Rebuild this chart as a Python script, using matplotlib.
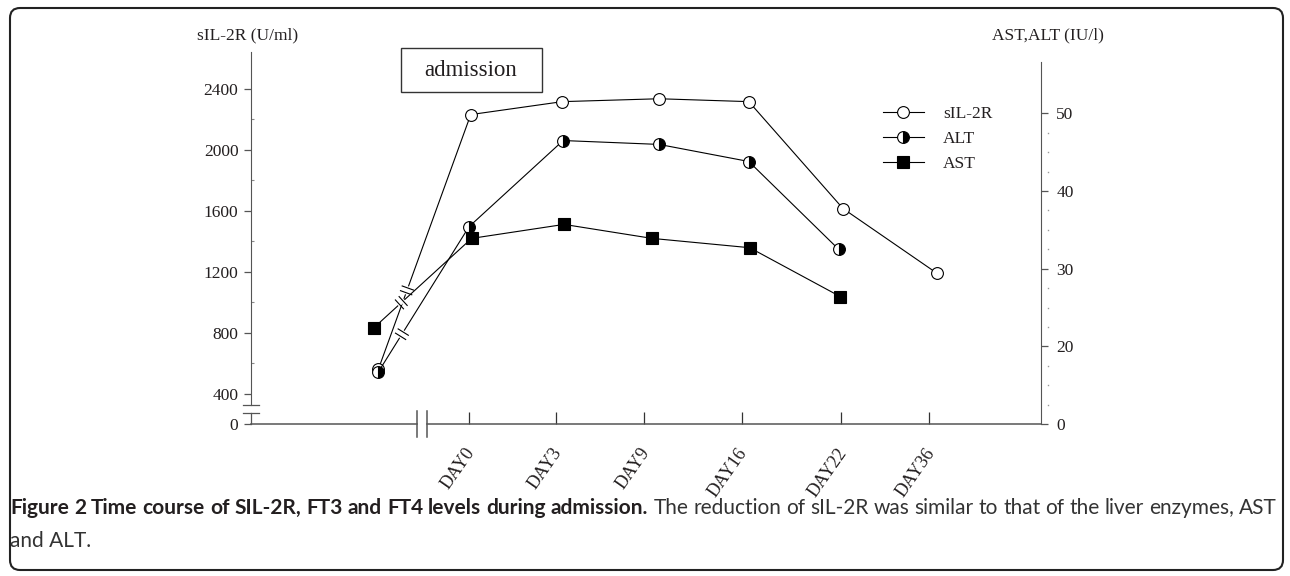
import numpy as np
import matplotlib
matplotlib.use("Agg")
import matplotlib.pyplot as plt
from matplotlib.lines import Line2D
from matplotlib.patches import FancyBboxPatch, Rectangle
from matplotlib.transforms import IdentityTransform, ScaledTranslation

plt.rcParams['font.family'] = ['Liberation Serif', 'DejaVu Serif']

# ---- data ----
days = ["DAY0", "DAY3", "DAY9", "DAY16", "DAY22", "DAY36"]
day_pos = [0, 0.99, 1.99, 3.10, 4.23, 5.23]

# sIL-2R (U/ml), left axis; first point is before admission
sil_x = [-1.03, 0.02, 1.06, 2.16, 3.18, 4.25, 5.32]
sil_y = [559, 2232, 2317, 2336, 2317, 1615, 1189]

# ALT / AST (IU/l), right axis
alt_x = [-1.03, 0.0, 1.07, 2.16, 3.18, 4.20]
alt_y = [13.4, 35.4, 46.5, 46.0, 43.8, 32.5]
ast_x = [-1.08, 0.03, 1.08, 2.08, 3.19, 4.22]
ast_y = [22.4, 33.9, 35.7, 33.9, 32.7, 26.4]

left_ticks = [0, 400, 800, 1200, 1600, 2000, 2400]
left_minor = [600, 1000, 1400, 1800, 2200]
right_ticks = [0, 20, 30, 40, 50]
right_minor = [5, 10, 15, 22.5, 25, 27.5, 32.5, 35, 37.5, 42.5, 45, 47.5]

caption_bold = 'Figure 2 Time course of SIL-2R, FT3 and FT4 levels during admission.'
caption_rest = 'The reduction of sIL-2R was similar to that of the liver enzymes, AST'
caption_line2 = 'and ALT.'

TXT = '#231f20'
AX = '#555555'


# broken axes: the part below the break is squeezed to half
def left_fwd(v):
    v = np.asarray(v, dtype=float)
    return np.where(v >= 400, v, 400 - (400 - v) * 0.5)


def left_inv(f):
    f = np.asarray(f, dtype=float)
    return np.where(f >= 400, f, 400 - (400 - f) * 2)


def right_fwd(v):
    v = np.asarray(v, dtype=float)
    return np.where(v >= 20, v, 20 - (20 - v) * 0.5)


def right_inv(f):
    f = np.asarray(f, dtype=float)
    return np.where(f >= 20, f, 20 - (20 - f) * 2)


fig = plt.figure(figsize=(12.9, 5.76), dpi=100)
W, H = 1290, 576
ax = fig.add_axes([251 / W, 1 - 424 / H, 790 / W, 372 / H])
ax.set_yscale('function', functions=(left_fwd, left_inv))
ax.set_ylim(0, 2643)
ax.set_xlim(-2.477, 6.5)
ax2 = ax.twinx()
ax2.set_yscale('function', functions=(right_fwd, right_inv))
ax2.set_ylim(0, 57.9)

for s in ['top', 'right', 'bottom']:
    ax.spines[s].set_visible(False)
for s in ['top', 'left', 'bottom']:
    ax2.spines[s].set_visible(False)
ax.spines['left'].set_color(AX)
ax.spines['left'].set_bounds(256, 2643)
ax2.spines['right'].set_color(AX)
ax2.spines['right'].set_bounds(0, 56.6)

# left axis ticks
ax.set_yticks(left_ticks)
ax.set_yticks(left_minor, minor=True)
ax.tick_params(axis='y', which='major', direction='out', length=5, width=0.9,
               color=AX, labelcolor=TXT, labelsize=12.5, pad=4)
ax.tick_params(axis='y', which='minor', direction='in', length=2, width=0.8, color='#888888')

# right axis ticks
ax2.set_yticks(right_ticks)
ax2.set_yticks([], minor=True)
ax2.tick_params(axis='y', which='major', direction='out', length=5, width=0.9,
                color=AX, labelcolor=TXT, labelsize=12.5, pad=6)
ax2.plot(np.full(len(right_minor), 1.009), right_minor, ls='none', marker='s', ms=1,
         color='#999999', mec='none', transform=ax2.get_yaxis_transform(), clip_on=False)

# x axis with break
ax.set_xticks(day_pos)
ax.set_xticklabels(days, rotation=55, ha='right', rotation_mode='anchor')
ax.tick_params(axis='x', direction='in', length=9, width=0.9, color='#333333',
               labelcolor=TXT, labelsize=13, pad=15)
off = ScaledTranslation(-5 / 100, 0, fig.dpi_scale_trans)
for lab in ax.get_xticklabels():
    lab.set_transform(lab.get_transform() + off)

xt = ax.get_xaxis_transform()
xl = ax.get_xlim()
ax.plot([xl[0], -0.59], [0, 0], color=AX, lw=1.1, transform=xt, clip_on=False)
ax.plot([-0.477, xl[1]], [0, 0], color=AX, lw=1.1, transform=xt, clip_on=False)
for bx in (-0.59, -0.477):
    ax.plot([bx, bx], [-0.035, 0.035], color=AX, lw=1.1, transform=xt, clip_on=False)

# lower stub of left axis and its break marks
yt = ax.get_yaxis_transform()
ax.plot([0, 0], [0, 138], color=AX, lw=0.9, transform=yt, clip_on=False)
for by in (138, 256):
    ax.plot([-0.0101, 0.0101], [by, by], color=AX, lw=0.9, transform=yt, clip_on=False)

# series
l_sil, = ax.plot(sil_x, sil_y, color='black', lw=0.8, marker='o', ms=8.5,
                 mfc='white', mec='black', mew=0.8, zorder=4, clip_on=False)
l_alt, = ax2.plot(alt_x, alt_y, color='black', lw=0.8, marker='o', ms=8.5,
                  fillstyle='right', mfc='black', mfcalt='white', mec='black',
                  mew=0.8, zorder=4, clip_on=False)
l_ast, = ax2.plot(ast_x, ast_y, color='black', lw=0.8, marker='s', ms=8,
                  mfc='black', mec='black', mew=0.8, zorder=4, clip_on=False)

# break marks on the lines between the pre-admission point and DAY0
for xs, ys, a, t in [(sil_x, sil_y, ax, 0.31), (ast_x, ast_y, ax2, 0.28),
                     (alt_x, alt_y, ax2, 0.26)]:
    p0 = a.transData.transform((xs[0], ys[0]))
    p1 = a.transData.transform((xs[1], ys[1]))
    d = p1 - p0
    u = d / np.hypot(*d)
    n = np.array([-u[1], u[0]])
    c = p0 + t * d
    g0, g1 = c - 2.5 * u, c + 2.5 * u
    fig.add_artist(Line2D([g0[0], g1[0]], [g0[1], g1[1]], color='white', lw=2.5,
                          transform=IdentityTransform(), zorder=5))
    for s in (-2.5, 2.5):
        a0 = c + s * u - 6 * n
        a1 = c + s * u + 6 * n
        fig.add_artist(Line2D([a0[0], a1[0]], [a0[1], a1[1]], color='black', lw=0.8,
                              transform=IdentityTransform(), zorder=6))

ax2.legend([l_sil, l_alt, l_ast], ['sIL-2R', 'ALT', 'AST'], loc='upper left',
           bbox_to_anchor=(883 / W, 1 - 106 / H), bbox_transform=fig.transFigure,
           frameon=False, fontsize=12.5, handlelength=2.35, handletextpad=1.1,
           labelspacing=0.5, borderpad=0, borderaxespad=0, labelcolor=TXT)

# axis titles
fig.text(248 / W, 1 - 35 / H, 'sIL-2R (U/ml)', ha='center', va='center', size=12.5, color=TXT)
fig.text(1048 / W, 1 - 35 / H, 'AST,ALT (IU/l)', ha='center', va='center', size=12.5, color=TXT)

# admission box
fig.add_artist(Rectangle((401 / W, 1 - 92 / H), 141 / W, 44 / H, transform=fig.transFigure,
                         fill=False, ec='#333333', lw=1.0))
fig.text(471 / W, 1 - 70 / H, 'admission', ha='center', va='center', size=16.5, color=TXT)

# frame
fig.add_artist(FancyBboxPatch((10, 6), 1273, 562, boxstyle='round,pad=0,rounding_size=10',
                              transform=IdentityTransform(), fill=False, ec='#222222', lw=1.5))

# caption, first line justified between x=10 and x=1277
cap_font = ['Lato', 'DejaVu Sans']
cap_size = 15
renderer = fig.canvas.get_renderer()
words = [(w, 'bold', TXT) for w in caption_bold.split()] + \
        [(w, 'normal', '#333333') for w in caption_rest.split()]
objs = []
for w, wt, col in words:
    t = fig.text(0, 1 - 508 / H, w, ha='left', va='center', size=cap_size,
                 weight=wt, family=cap_font, color=col)
    objs.append(t)
widths = [t.get_window_extent(renderer).width for t in objs]
gap = (1277 - 10 - sum(widths)) / (len(objs) - 1)
x = 10
for t, wd in zip(objs, widths):
    t.set_x(x / W)
    x += wd + gap
fig.text(10 / W, 1 - 541 / H, caption_line2, ha='left', va='center', size=cap_size,
         family=cap_font, color='#333333')

fig.savefig('out.png', dpi=100, facecolor='white')
